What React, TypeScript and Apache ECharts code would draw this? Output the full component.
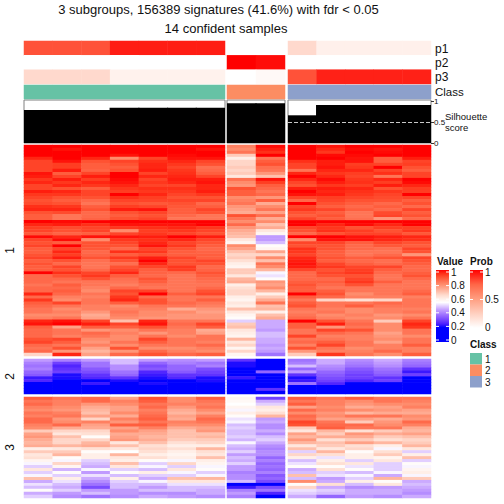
import React, { useEffect, useRef } from "react";
import * as echarts from "echarts";

const titleLines = ["3 subgroups, 156389 signatures (41.6%) with fdr < 0.05", "14 confident samples"];
const annotationNames = ["p1", "p2", "p3"];
const classColors = ["#66C2A5", "#FC8D62", "#8DA0CB"];

// sample membership per group
const group1Probs = {
  p1: [0.8, 0.8, 0.8, 0.93, 0.93, 0.93, 0.93],
  p2: [0, 0, 0, 0, 0, 0, 0],
  p3: [0.2, 0.2, 0.2, 0.07, 0.07, 0.07, 0.07],
};
const group2Probs = { p1: [0, 0], p2: [1, 0.97], p3: [0, 0.03] };
const group3Probs = {
  p1: [0.2, 0.08, 0.08, 0.08, 0.08],
  p2: [0, 0, 0, 0, 0],
  p3: [0.8, 0.92, 0.92, 0.92, 0.92],
};
const silhouette1 = [0.8, 0.8, 0.8, 0.85, 0.85, 0.85, 0.85];
const silhouette2 = [0.96, 0.96];
const silhouette3 = [0.67, 0.92, 0.92, 0.92, 0.92];

// expression rows (percent); columns: 7 of group 1, 2 of group 2, 5 of group 3
const sliceOneRows = [
  [100,100,100,100,100,100,100,82,99,100,98,100,100,100],
  [100,98,100,100,100,100,98,80,97,100,96,99,98,100],
  [100,100,100,100,100,100,100,84,95,100,94,100,99,100],
  [100,100,100,98,100,99,100,68,100,100,99,99,100,100],
  [96,100,96,80,92,98,98,60,84,100,100,98,88,97],
  [92,98,90,92,95,96,92,66,88,95,97,98,88,92],
  [92,93,88,90,96,94,90,66,90,92,97,93,92,93],
  [92,93,88,88,96,92,85,68,85,92,98,94,100,90],
  [92,97,87,90,97,94,86,66,84,84,96,96,92,88],
  [98,88,92,100,92,95,88,68,78,96,94,93,95,92],
  [97,92,97,100,96,96,92,62,70,100,96,92,84,92],
  [94,97,93,99,92,97,97,85,98,96,99,94,96,100],
  [96,94,96,98,94,96,98,80,93,92,97,95,93,99],
  [92,96,94,96,92,92,96,78,88,90,94,93,97,96],
  [92,90,88,94,95,95,96,90,86,97,97,96,90,93],
  [97,96,92,93,94,94,97,88,84,100,96,95,94,93],
  [94,94,92,100,96,92,94,88,86,98,97,94,92,100],
  [92,90,90,95,93,90,90,80,78,92,93,92,91,92],
  [90,88,86,92,92,92,92,82,88,86,92,90,90,88],
  [91,90,84,90,89,90,86,84,74,100,90,88,86,90],
  [95,94,88,93,92,89,88,78,80,92,88,86,88,86],
  [96,96,90,97,98,88,92,76,84,94,92,88,86,92],
  [90,91,86,90,92,88,90,74,76,90,88,84,91,88],
  [88,84,86,88,90,86,84,90,85,88,90,84,92,90],
  [88,84,87,90,92,84,84,84,74,92,88,85,78,86],
  [100,99,100,100,100,100,100,80,80,100,100,100,100,100],
  [96,97,95,98,98,98,100,86,70,100,96,99,96,100],
  [93,91,92,94,95,96,94,78,74,92,94,90,93,93],
  [92,90,92,80,93,94,92,74,62,90,95,93,90,94],
  [89,87,88,92,94,92,90,72,58,86,90,92,92,89],
  [99,96,98,98,97,100,97,70,44,100,100,98,97,96],
  [92,99,80,94,95,96,92,62,44,80,98,98,96,95],
  [90,88,90,92,96,92,90,58,48,92,92,88,92,90],
  [92,100,90,90,98,94,88,80,56,90,90,86,89,88],
  [88,92,89,86,92,90,86,76,58,95,90,86,85,92],
  [88,96,86,95,94,88,87,70,75,94,88,84,84,90],
  [90,93,87,88,90,88,88,66,66,92,88,84,86,78],
  [92,97,90,94,97,92,88,68,80,96,90,88,90,92],
  [88,90,85,90,100,90,92,64,70,97,88,86,85,90],
  [90,86,84,85,96,90,90,60,84,98,92,88,86,88],
  [88,92,84,90,92,94,86,58,80,97,94,92,92,86],
  [88,90,86,92,88,93,87,68,72,92,90,93,88,86],
  [100,95,92,96,87,86,90,68,54,86,92,94,86,88],
  [86,90,94,88,86,84,88,62,52,86,90,90,84,90],
  [86,86,90,85,90,84,86,72,56,86,86,92,84,86],
  [86,84,84,84,88,84,85,74,78,88,88,94,88,84],
  [84,88,84,82,85,84,84,60,76,90,86,90,84,84],
  [86,86,82,86,84,84,86,64,80,88,84,84,84,84],
  [86,88,80,92,92,84,90,66,72,88,88,84,84,86],
  [96,86,84,90,100,88,92,66,60,100,90,80,84,88],
  [86,82,82,94,86,84,84,60,68,88,86,82,82,82],
  [94,80,84,96,90,84,88,58,74,84,66,64,66,84],
  [88,92,84,88,90,86,84,62,84,88,84,84,86,84],
  [86,84,82,80,84,84,82,60,70,90,84,88,84,84],
  [84,80,82,82,82,74,78,70,72,84,82,80,82,82],
  [84,82,78,84,80,80,76,62,60,82,84,80,82,84],
  [80,80,74,82,80,78,78,58,70,84,80,82,78,80],
  [82,84,76,80,78,78,78,56,74,86,82,80,80,84],
  [96,98,92,70,96,84,84,50,46,100,90,84,68,92],
  [98,100,97,92,98,86,92,68,46,88,97,86,80,96],
  [88,76,88,88,90,84,88,70,46,88,78,84,80,94],
  [86,84,78,80,84,82,74,62,44,84,92,90,80,84],
  [86,84,86,82,78,82,76,60,48,84,86,84,76,84],
  [86,82,84,80,84,80,84,58,48,92,82,82,78,80],
  [90,92,80,80,92,84,84,72,46,84,84,82,80,84],
  [92,88,78,84,88,84,82,62,46,86,88,84,76,84],
  [86,84,82,80,84,84,86,66,44,82,92,84,82,88],
  [84,90,76,90,80,80,82,58,46,90,84,80,82,82],
  [86,78,72,78,86,82,80,66,44,78,82,82,86,82],
  [66,96,76,86,90,86,88,58,38,68,94,84,80,88],
];
const sliceTwoRows = [
  [44,40,44,48,44,42,44,28,20,38,46,42,46,40],
  [40,30,38,48,36,40,38,22,16,40,46,40,44,38],
  [38,26,38,42,32,36,40,22,14,48,42,38,42,36],
  [40,28,34,42,34,36,32,20,14,36,40,34,38,28],
  [36,30,32,38,26,34,30,18,36,44,36,32,36,24],
  [34,22,28,36,24,28,28,20,14,28,34,30,34,30],
  [24,22,26,28,22,26,22,24,10,22,32,30,28,20],
  [26,18,16,22,18,20,22,12,8,24,30,26,30,16],
  [14,12,24,14,22,14,14,10,8,38,26,20,14,12],
  [20,10,10,10,10,10,10,8,6,10,8,10,10,8],
  [10,8,8,8,8,8,8,8,28,8,8,8,8,8],
  [6,6,6,6,6,6,6,6,6,6,6,6,6,6],
];
const sliceThreeRows = [
  [88,84,86,76,90,80,88,58,30,88,84,88,84,84],
  [84,82,86,82,88,80,84,57,46,84,82,80,84,82],
  [86,82,78,80,84,82,82,55,50,88,82,78,80,80],
  [82,80,74,76,86,78,84,58,62,76,80,74,76,82],
  [80,78,72,76,82,74,80,54,60,86,82,80,78,76],
  [84,82,70,80,84,72,76,60,64,80,78,72,74,74],
  [82,84,76,74,86,76,82,56,72,86,80,84,84,80],
  [86,78,66,82,88,74,86,52,44,84,76,76,74,78],
  [86,80,82,78,84,82,84,54,46,92,84,68,78,86],
  [82,86,76,88,88,80,80,48,42,90,86,86,80,82],
  [80,74,74,76,82,74,76,50,42,68,88,84,84,74],
  [68,66,66,80,76,70,78,48,46,62,72,64,68,72],
  [76,62,64,74,74,70,70,48,42,76,68,78,74,76],
  [78,70,56,76,72,70,72,50,48,72,74,74,68,70],
  [74,66,66,78,74,68,68,47,50,78,64,68,64,66],
  [72,66,72,62,70,64,66,54,46,72,70,76,72,68],
  [74,72,74,70,64,60,60,48,42,62,68,64,60,72],
  [60,62,64,62,66,64,72,46,40,70,62,66,54,62],
  [68,68,56,55,64,60,64,50,42,50,72,56,64,50],
  [62,72,60,72,60,58,62,44,42,66,64,60,68,60],
  [64,56,60,62,64,60,70,48,36,60,52,60,58,70],
  [58,54,50,60,56,54,60,46,40,48,60,50,62,50],
  [54,66,48,70,50,66,58,50,36,52,64,62,50,56],
  [50,58,46,62,54,50,54,44,38,56,56,52,50,54],
  [62,47,54,50,48,62,56,44,36,46,64,56,50,58],
  [50,56,44,56,60,54,50,40,40,48,50,48,54,60],
  [54,50,52,48,50,50,54,42,34,70,52,54,46,54],
  [70,60,46,60,46,70,72,42,36,48,44,50,72,68],
  [46,52,42,50,54,62,62,48,32,80,46,60,56,46],
  [52,48,38,48,48,52,52,14,20,56,64,48,62,48],
  [48,46,32,48,44,48,48,24,32,66,46,42,44,46],
  [56,50,44,44,48,48,46,40,38,52,50,46,46,44],
  [46,44,48,44,42,42,46,44,26,50,48,46,46,42],
  [50,42,38,42,46,44,42,40,16,46,36,44,42,46],
];

const valueTicks = ["1", "0.8", "0.6", "0.4", "0.2", "0"];
const probTicks = ["1", "0.5", "0"];
const classTicks = ["1", "2", "3"];

// colour ramp at every 5 percent from 0 to 100
const valueRamp = [
  "#0000FF", "#0000FF", "#0000FF", "#0000FF", "#0000FF", "#4A1EFF", "#6F3FFF", "#8E5FFF", "#AA80FF", "#C5A1FF", "#E2CFFF",
  "#FFFFFF", "#FFEFE8", "#FFDCCF", "#FFC0AC", "#FFA68C", "#FF8C6C", "#FF6F50", "#FF5232", "#FF3018", "#FF0000",
];
const probRamp = ["#FFFFFF", "#FFD0C0", "#FF9E81", "#FF6647", "#FF0000"];

const FONT = "Liberation Sans";
const groups = [
  { left: 24, width: 201, from: 0, to: 7, probs: group1Probs, sil: silhouette1, cls: 1 },
  { left: 227, width: 58, from: 7, to: 9, probs: group2Probs, sil: silhouette2, cls: 2 },
  { left: 288, width: 143, from: 9, to: 14, probs: group3Probs, sil: silhouette3, cls: 3 },
];
const slices = [
  { top: 145, height: 211, rows: sliceOneRows, label: "1" },
  { top: 359, height: 35, rows: sliceTwoRows, label: "2" },
  { top: 397, height: 101, rows: sliceThreeRows, label: "3" },
];

function buildOption() {
  const grid: any[] = [];
  const xAxis: any[] = [];
  const yAxis: any[] = [];
  const series: any[] = [];
  const valueSeries: number[] = [];
  const probSeries: number[] = [];
  const classSeries: number[] = [];

  const addGrid = (left: number, top: number, width: number, height: number, nx: number, ny: number) => {
    const idx = grid.length;
    grid.push({ left, top, width, height, containLabel: false });
    xAxis.push({ type: "category", gridIndex: idx, show: false, data: Array.from({ length: nx }, (_, i) => i) });
    yAxis.push({ type: "category", gridIndex: idx, show: false, inverse: true, data: Array.from({ length: ny }, (_, i) => i) });
    return idx;
  };

  groups.forEach((g) => {
    const n = g.to - g.from;
    // probabilities
    let idx = addGrid(g.left, 41, g.width, 43, n, 3);
    const pData: number[][] = [];
    annotationNames.forEach((name, r) => {
      (g.probs as any)[name].forEach((v: number, c: number) => pData.push([c, r, v]));
    });
    probSeries.push(series.length);
    series.push({ type: "heatmap", xAxisIndex: idx, yAxisIndex: idx, data: pData, silent: true });
    // class
    idx = addGrid(g.left, 85, g.width, 14, 1, 1);
    classSeries.push(series.length);
    series.push({ type: "heatmap", xAxisIndex: idx, yAxisIndex: idx, data: [[0, 0, g.cls]], silent: true });
    // silhouette
    idx = grid.length;
    grid.push({ left: g.left, top: 100, width: g.width, height: 43, show: true, borderColor: "#808080", borderWidth: 1, backgroundColor: "#fff" });
    xAxis.push({ type: "category", gridIndex: idx, show: false, data: g.sil.map((_, i) => i) });
    const isLast = g.cls === 3;
    yAxis.push({
      type: "value", gridIndex: idx, min: 0, max: 1.04, position: "right", show: isLast,
      splitLine: { show: false }, axisLine: { show: false },
      axisTick: { show: isLast, length: 3, lineStyle: { color: "#333" }, customValues: [0, 0.5, 1] },
      axisLabel: { show: isLast, fontSize: 8, fontFamily: FONT, color: "#111", margin: 3, customValues: [0, 0.5, 1], formatter: (v: number) => String(v) },
    });
    series.push({
      type: "bar", xAxisIndex: idx, yAxisIndex: idx, data: g.sil, barWidth: "104%", silent: true,
      itemStyle: { color: "#000" },
      markLine: isLast ? {
        silent: true, symbol: "none", label: { show: false },
        lineStyle: { color: "#c8c8c8", type: "dashed", width: 1 }, data: [{ yAxis: 0.5 }],
      } : undefined,
    });
    // heatmap slices
    slices.forEach((s) => {
      const hi = addGrid(g.left, s.top, g.width, s.height, n, s.rows.length);
      const data: number[][] = [];
      s.rows.forEach((row, r) => row.slice(g.from, g.to).forEach((v, c) => data.push([c, r, v])));
      valueSeries.push(series.length);
      series.push({ type: "heatmap", xAxisIndex: hi, yAxisIndex: hi, data, silent: true });
    });
  });

  const text = (x: number, y: number, t: string, extra: any = {}) => ({
    type: "text", x, y, silent: true,
    style: { text: t, fill: "#111", fontFamily: FONT, fontSize: 11, textVerticalAlign: "middle", ...extra },
  });
  const grad = (ramp: string[]) =>
    new echarts.graphic.LinearGradient(0, 0, 0, 1, ramp.map((c, i) => ({ offset: 1 - i / (ramp.length - 1), color: c })).reverse());

  const graphic: any[] = [];
  annotationNames.forEach((n, i) => graphic.push(text(435, 49 + i * 14, n, { fontSize: 12 })));
  graphic.push(text(435, 91.5, "Class", { fontSize: 11.5 }));
  graphic.push(text(445, 116, "Silhouette", { fontSize: 9.5 }));
  graphic.push(text(445, 127, "score", { fontSize: 9.5 }));
  slices.forEach((s) => {
    graphic.push({
      type: "text", x: 10, y: s.top + s.height / 2, rotation: Math.PI / 2, silent: true,
      style: { text: s.label, fill: "#111", fontFamily: FONT, fontSize: 12, textAlign: "center", textVerticalAlign: "middle" },
    });
  });
  // Value legend
  graphic.push(text(437, 261, "Value", { fontSize: 10, fontWeight: "bold" }));
  graphic.push({ type: "rect", silent: true, shape: { x: 436, y: 270, width: 13, height: 72 }, style: { fill: grad(valueRamp) } });
  valueTicks.forEach((t, i) => {
    const y = 272 + i * 13.6;
    graphic.push(text(451, y, t, { fontSize: 10 }));
    graphic.push({ type: "line", silent: true, shape: { x1: 436, y1: y, x2: 439, y2: y }, style: { stroke: "#fff", lineWidth: 1 } });
    graphic.push({ type: "line", silent: true, shape: { x1: 446, y1: y, x2: 449, y2: y }, style: { stroke: "#fff", lineWidth: 1 } });
  });
  // Prob legend
  graphic.push(text(470, 261, "Prob", { fontSize: 10, fontWeight: "bold" }));
  graphic.push({ type: "rect", silent: true, shape: { x: 470, y: 270, width: 13, height: 58 }, style: { fill: grad(probRamp) } });
  probTicks.forEach((t, i) => {
    const y = 272 + i * 27.5;
    graphic.push(text(485, y, t, { fontSize: 10 }));
    graphic.push({ type: "line", silent: true, shape: { x1: 470, y1: y, x2: 473, y2: y }, style: { stroke: "#fff", lineWidth: 1 } });
    graphic.push({ type: "line", silent: true, shape: { x1: 480, y1: y, x2: 483, y2: y }, style: { stroke: "#fff", lineWidth: 1 } });
  });
  // Class legend
  graphic.push(text(470, 344, "Class", { fontSize: 10, fontWeight: "bold" }));
  classTicks.forEach((t, i) => {
    const y = 353 + i * 11.5;
    graphic.push({ type: "rect", silent: true, shape: { x: 470, y, width: 12, height: 11.5 }, style: { fill: classColors[i] } });
    graphic.push(text(485, y + 6, t, { fontSize: 10 }));
  });

  return {
    animation: false,
    backgroundColor: "#fff",
    title: titleLines.map((t, i) => ({
      text: t, left: i === 0 ? 218.5 : 226, top: i === 0 ? 3 : 22, textAlign: "center", padding: 0,
      textStyle: { fontFamily: FONT, fontSize: 13, fontWeight: "normal", color: "#111" },
    })),
    grid, xAxis, yAxis, series,
    visualMap: [
      { type: "continuous", show: false, min: 0, max: 100, seriesIndex: valueSeries, inRange: { color: valueRamp } },
      { type: "continuous", show: false, min: 0, max: 1, seriesIndex: probSeries, inRange: { color: probRamp } },
      {
        type: "piecewise", show: false, seriesIndex: classSeries,
        pieces: classColors.map((color, i) => ({ value: i + 1, color })),
      },
    ],
    graphic: { elements: graphic },
  };
}

export default function App() {
  const ref = useRef<HTMLDivElement>(null);
  useEffect(() => {
    const chart = echarts.init(ref.current!, null, { renderer: "svg" });
    chart.setOption(buildOption() as any);
    return () => chart.dispose();
  }, []);
  return <div ref={ref} style={{ position: "fixed", left: 0, top: 0, width: 504, height: 504 }} />;
}
